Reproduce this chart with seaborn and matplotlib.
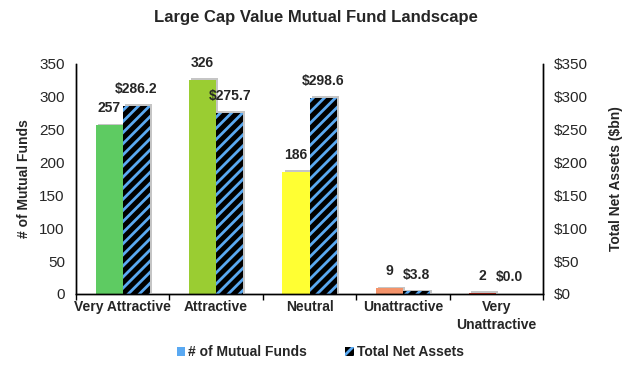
import matplotlib
matplotlib.use("Agg")
import matplotlib.pyplot as plt
import matplotlib.patheffects as pe
from matplotlib.patches import Patch
import seaborn as sns
import pandas as pd

# Data
ratings = ["Very Attractive", "Attractive", "Neutral", "Unattractive", "Very\nUnattractive"]
fund_counts = [257, 326, 186, 9, 2]
net_assets = [286.2, 275.7, 298.6, 3.8, 0.0]
rating_colors = ["#5ecb62", "#9acd32", "#ffff33", "#f4936a", "#e03a2a"]
left_ticks = [0, 50, 100, 150, 200, 250, 300, 350]

BLUE = "#5aa9f2"

sns.set_theme(style="white")
plt.rcParams["font.family"] = ["Liberation Sans", "DejaVu Sans"]
plt.rcParams["hatch.linewidth"] = 2.0

df = pd.DataFrame({
    "rating": ratings * 2,
    "value": fund_counts + net_assets,
    "series": ["# of Mutual Funds"] * len(ratings) + ["Total Net Assets"] * len(ratings),
})

fig = plt.figure(figsize=(6.3, 3.67), dpi=100)
ax = fig.add_axes([0.1206, 0.199, 0.7414, 0.627])

sns.barplot(data=df, x="rating", y="value", hue="series", width=0.58,
            dodge=True, legend=False, ax=ax, saturation=1)

# soft grey drop shadow, without copying the hatch into the shadow
shadow = [pe.SimplePatchShadow(offset=(1.5, 1), shadow_rgbFace="gray", alpha=0.45, hatch=None),
          pe.Normal()]

count_bars, asset_bars = ax.containers[0], ax.containers[1]
for bar, col, val in zip(count_bars, rating_colors, fund_counts):
    bar.set_facecolor(col)
    bar.set_edgecolor(col)
    bar.set_linewidth(0)
    bar.set_path_effects(shadow)
    ax.annotate(f"{val}", (bar.get_x() + bar.get_width() / 2, bar.get_height()),
                xytext=(0, 7), textcoords="offset points", ha="center", va="bottom",
                fontsize=10, fontweight="bold")
for bar, val in zip(asset_bars, net_assets):
    bar.set_facecolor("black")
    bar.set_edgecolor(BLUE)
    bar.set_hatch("///")
    bar.set_linewidth(0)
    bar.set_path_effects(shadow)
    ax.annotate(f"${val:.1f}", (bar.get_x() + bar.get_width() / 2, bar.get_height()),
                xytext=(0, 7), textcoords="offset points", ha="center", va="bottom",
                fontsize=10, fontweight="bold")

ax.set_xlim(-0.5, len(ratings) - 0.5)
ax.set_ylim(0, 350)
ax.set_yticks(left_ticks)
ax.set_yticklabels([str(t) for t in left_ticks], fontsize=11)
ax.set_xlabel("")
ax.set_ylabel("# of Mutual Funds", fontsize=10, fontweight="bold", labelpad=6)
ax.set_xticks(range(len(ratings)))
ax.set_xticklabels(ratings, fontsize=10, fontweight="bold", linespacing=1.4)
ax.set_xticks([i - 0.5 for i in range(len(ratings) + 1)], minor=True)
ax.tick_params(axis="x", which="major", length=0, pad=4)
ax.tick_params(axis="x", which="minor", length=4, width=1, color="black", direction="out", bottom=True)
ax.tick_params(axis="y", length=0, pad=8)

ax2 = ax.twinx()
ax2.set_ylim(0, 350)
ax2.set_yticks(left_ticks)
ax2.set_yticklabels([f"${t}" for t in left_ticks], fontsize=11)
ax2.tick_params(axis="y", length=0, pad=8)
ax2.set_ylabel("Total Net Assets ($bn)", fontsize=10, fontweight="bold", labelpad=15)

for a in (ax, ax2):
    a.spines["top"].set_visible(False)
    for s in ("left", "right", "bottom"):
        a.spines[s].set_color("black")
        a.spines[s].set_linewidth(1)
    a.grid(False)

fig.text(0.502, 0.951, "Large Cap Value Mutual Fund Landscape", ha="center", va="center",
         fontsize=12, fontweight="bold")

handles = [Patch(facecolor=BLUE, edgecolor=BLUE, linewidth=0),
           Patch(facecolor="black", edgecolor=BLUE, hatch="///", linewidth=0)]
leg = fig.legend(handles, ["# of Mutual Funds", "Total Net Assets"], loc="center",
                 bbox_to_anchor=(0.508, 0.04), ncol=2, frameon=False,
                 handlelength=0.6, handleheight=0.6, handletextpad=0.2,
                 columnspacing=2.8, prop={"weight": "bold", "size": 10})

fig.savefig("out.png", dpi=100)
